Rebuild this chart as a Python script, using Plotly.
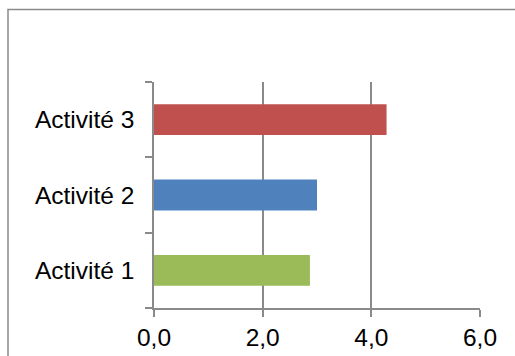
import plotly.graph_objects as go

# Chart data
categories = ["Activité 1", "Activité 2", "Activité 3"]
values = [2.87, 3.0, 4.28]
bar_colors = ["#9BBB59", "#4F81BD", "#C0504D"]
x_ticks = [0, 2, 4, 6]

W, H = 515, 356
ML, MR, MT, MB = 154, 35, 82, 48
plot_w = W - ML - MR
plot_h = H - MT - MB

AXIS_GRAY = "#8a8a8a"
FONT = dict(family="Liberation Sans, Arial, sans-serif", size=24.5, color="#000000")

fig = go.Figure(
    go.Bar(
        x=values,
        y=categories,
        orientation="h",
        marker=dict(color=bar_colors, line=dict(width=0)),
        hoverinfo="skip",
    )
)

# Outer chart-area frame (left and top edges visible, others run off the page)
bx = (8 - ML) / plot_w
by = (H - MB - 9.5) / plot_h
fig.add_shape(
    type="rect", xref="paper", yref="paper",
    x0=bx, y0=-2, x1=3, y1=by,
    line=dict(color=AXIS_GRAY, width=1.5),
    layer="below",
)

fig.update_layout(
    width=W, height=H,
    margin=dict(l=ML, r=MR, t=MT, b=MB, pad=0, autoexpand=False),
    paper_bgcolor="white",
    plot_bgcolor="white",
    separators=", ",
    bargap=0.59,
    showlegend=False,
    font=FONT,
)

fig.update_xaxes(
    range=[0, 6],
    tickvals=x_ticks,
    tickformat=".1f",
    showgrid=True,
    gridcolor=AXIS_GRAY,
    gridwidth=1.5,
    zeroline=False,
    showline=True,
    linecolor=AXIS_GRAY,
    linewidth=1.5,
    ticks="outside",
    ticklen=7,
    tickwidth=1.5,
    tickcolor=AXIS_GRAY,
    tickfont=FONT,
    ticklabelstandoff=0,
    automargin=False,
    fixedrange=True,
)

fig.update_yaxes(
    type="category",
    categoryorder="array",
    categoryarray=categories,
    showgrid=False,
    zeroline=False,
    showline=True,
    linecolor=AXIS_GRAY,
    linewidth=1.5,
    ticks="outside",
    tickson="boundaries",
    ticklen=7,
    tickwidth=1.5,
    tickcolor=AXIS_GRAY,
    tickfont=FONT,
    ticklabelstandoff=13,
    automargin=False,
    fixedrange=True,
)

fig.write_html("out.html", config={"displayModeBar": False})
